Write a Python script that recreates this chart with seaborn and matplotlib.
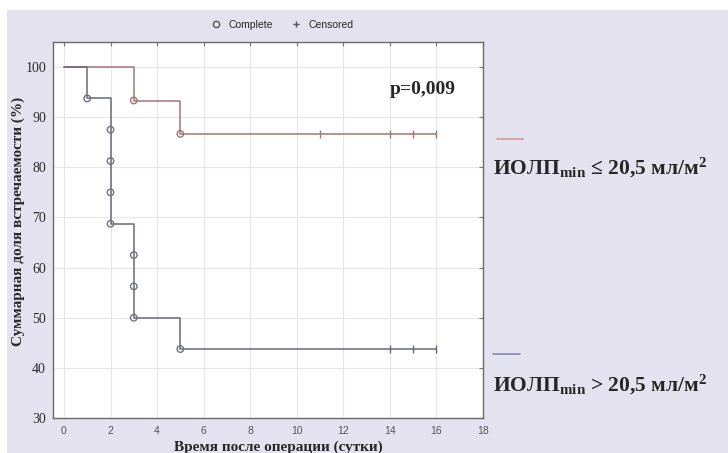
import seaborn as sns
import matplotlib.pyplot as plt
from matplotlib.patches import Rectangle
from matplotlib.lines import Line2D

# ---------------------------
# Kaplan-Meier data
# ---------------------------
# group ИОЛПmin <= 20,5
low_steps_t = [0, 3, 5, 16]
low_steps_s = [100.0, 93.33, 86.67, 86.67]
low_event_t = [3, 5]
low_event_s = [93.33, 86.67]
low_cens_t = [11, 14, 15, 16]
low_cens_s = [86.67, 86.67, 86.67, 86.67]

# group ИОЛПmin > 20,5
high_steps_t = [0, 1, 2, 3, 5, 16]
high_steps_s = [100.0, 93.75, 68.75, 50.0, 43.75, 43.75]
high_event_t = [1, 2, 2, 2, 2, 3, 3, 3, 5]
high_event_s = [93.75, 87.5, 81.25, 75.0, 68.75, 62.5, 56.25, 50.0, 43.75]
high_cens_t = [14, 15, 16]
high_cens_s = [43.75, 43.75, 43.75]

x_ticks = [0, 2, 4, 6, 8, 10, 12, 14, 16, 18]
y_ticks = [30, 40, 50, 60, 70, 80, 90, 100]

label_low = r"ИОЛП$_{\mathbf{min}}$ ≤ 20,5 мл/м$^{\mathbf{2}}$"
label_high = r"ИОЛП$_{\mathbf{min}}$ > 20,5 мл/м$^{\mathbf{2}}$"

# ---------------------------
# Styling
# ---------------------------
sns.set_style("whitegrid", {"grid.color": "#e6e6e6", "axes.edgecolor": "#6a6a6a"})
plt.rcParams["mathtext.fontset"] = "custom"
plt.rcParams["mathtext.rm"] = "Liberation Serif:bold"
plt.rcParams["mathtext.bf"] = "Liberation Serif:bold"
plt.rcParams["mathtext.it"] = "Liberation Serif:bold"

bg = "#e5e2ef"
red = "#a57472"
blue = "#66687c"
circ = "#727282"

fig = plt.figure(figsize=(7.28, 4.53), dpi=100, facecolor="white")
fig.patches.append(Rectangle((7 / 728, 0), 1, 1 - 10 / 453, transform=fig.transFigure,
                             facecolor=bg, edgecolor="none", zorder=-1))
ax = fig.add_axes([53 / 728, 1 - 418 / 453, 430 / 728, 376 / 453])
ax.set_facecolor("white")

# step curves
sns.lineplot(x=low_steps_t, y=low_steps_s, ax=ax, color=red, lw=1.1,
             drawstyle="steps-post", estimator=None, sort=False)
sns.lineplot(x=high_steps_t, y=high_steps_s, ax=ax, color=blue, lw=1.1,
             drawstyle="steps-post", estimator=None, sort=False)

# complete (events)
sns.scatterplot(x=low_event_t, y=low_event_s, ax=ax, marker="o", s=22,
                facecolor="none", edgecolor=red, linewidth=1, zorder=3)
sns.scatterplot(x=high_event_t, y=high_event_s, ax=ax, marker="o", s=22,
                facecolor="none", edgecolor=circ, linewidth=1, zorder=3)

# censored
sns.scatterplot(x=low_cens_t, y=low_cens_s, ax=ax, marker="|", s=36,
                color=red, linewidth=1, zorder=3)
sns.scatterplot(x=high_cens_t, y=high_cens_s, ax=ax, marker="|", s=36,
                color=blue, linewidth=1, zorder=3)

ax.set_xlim(-0.47, 18.0)
ax.set_ylim(30, 105)
ax.set_xticks(x_ticks)
ax.set_yticks(y_ticks)
ax.set_yticklabels([str(v) for v in y_ticks], family="Liberation Serif",
                   fontsize=10, color="#2a2a2a")
ax.set_xticklabels([str(v) for v in x_ticks], family="Liberation Sans",
                   fontsize=7.5, color="#555555")
ax.tick_params(axis="x", direction="in", length=3, pad=6, top=True, color="#777777")
ax.tick_params(axis="y", direction="in", length=3, pad=5, right=True, color="#777777")
ax.set_xlabel("")
ax.set_ylabel("")
for s in ax.spines.values():
    s.set_linewidth(1)

# axis titles
fig.text(278 / 728, 1 - 447 / 453, "Время после операции (сутки)", ha="center", va="center",
         family="Liberation Serif", fontweight="bold", fontsize=11)
fig.text(18 / 728, 1 - 221 / 453, "Суммарная доля встречаемости (%)", ha="center", va="center",
         rotation=90, family="Liberation Serif", fontweight="bold", fontsize=11)

# p-value
ax.text(14.0, 95.6, "p=0,009", ha="left", va="center", family="Liberation Serif",
        fontweight="bold", fontsize=14)

# top legend
handles = [
    Line2D([], [], marker="o", ls="", mfc="none", mec="#555555", ms=4.5, label="Complete"),
    Line2D([], [], marker="+", ls="", color="#555555", ms=5, label="Censored"),
]
fig.legend(handles=handles, loc="center", bbox_to_anchor=(280 / 728, 1 - 25 / 453), ncol=2,
           frameon=False, handletextpad=0.2, columnspacing=1.2,
           prop={"family": "Liberation Sans", "size": 7.5})

# right-side group labels
fig.add_artist(Line2D([497 / 728, 523 / 728], [1 - 139 / 453] * 2, color="#d29a9a", lw=1.2))
fig.add_artist(Line2D([493 / 728, 520 / 728], [1 - 354 / 453] * 2, color="#8587ad", lw=1.2))
fig.text(493 / 728, 1 - 168 / 453, label_low, ha="left", va="center",
         family="Liberation Serif", fontweight="bold", fontsize=15.5)
fig.text(493 / 728, 1 - 385 / 453, label_high, ha="left", va="center",
         family="Liberation Serif", fontweight="bold", fontsize=15.5)

plt.savefig("out.png", dpi=100)
plt.close()
